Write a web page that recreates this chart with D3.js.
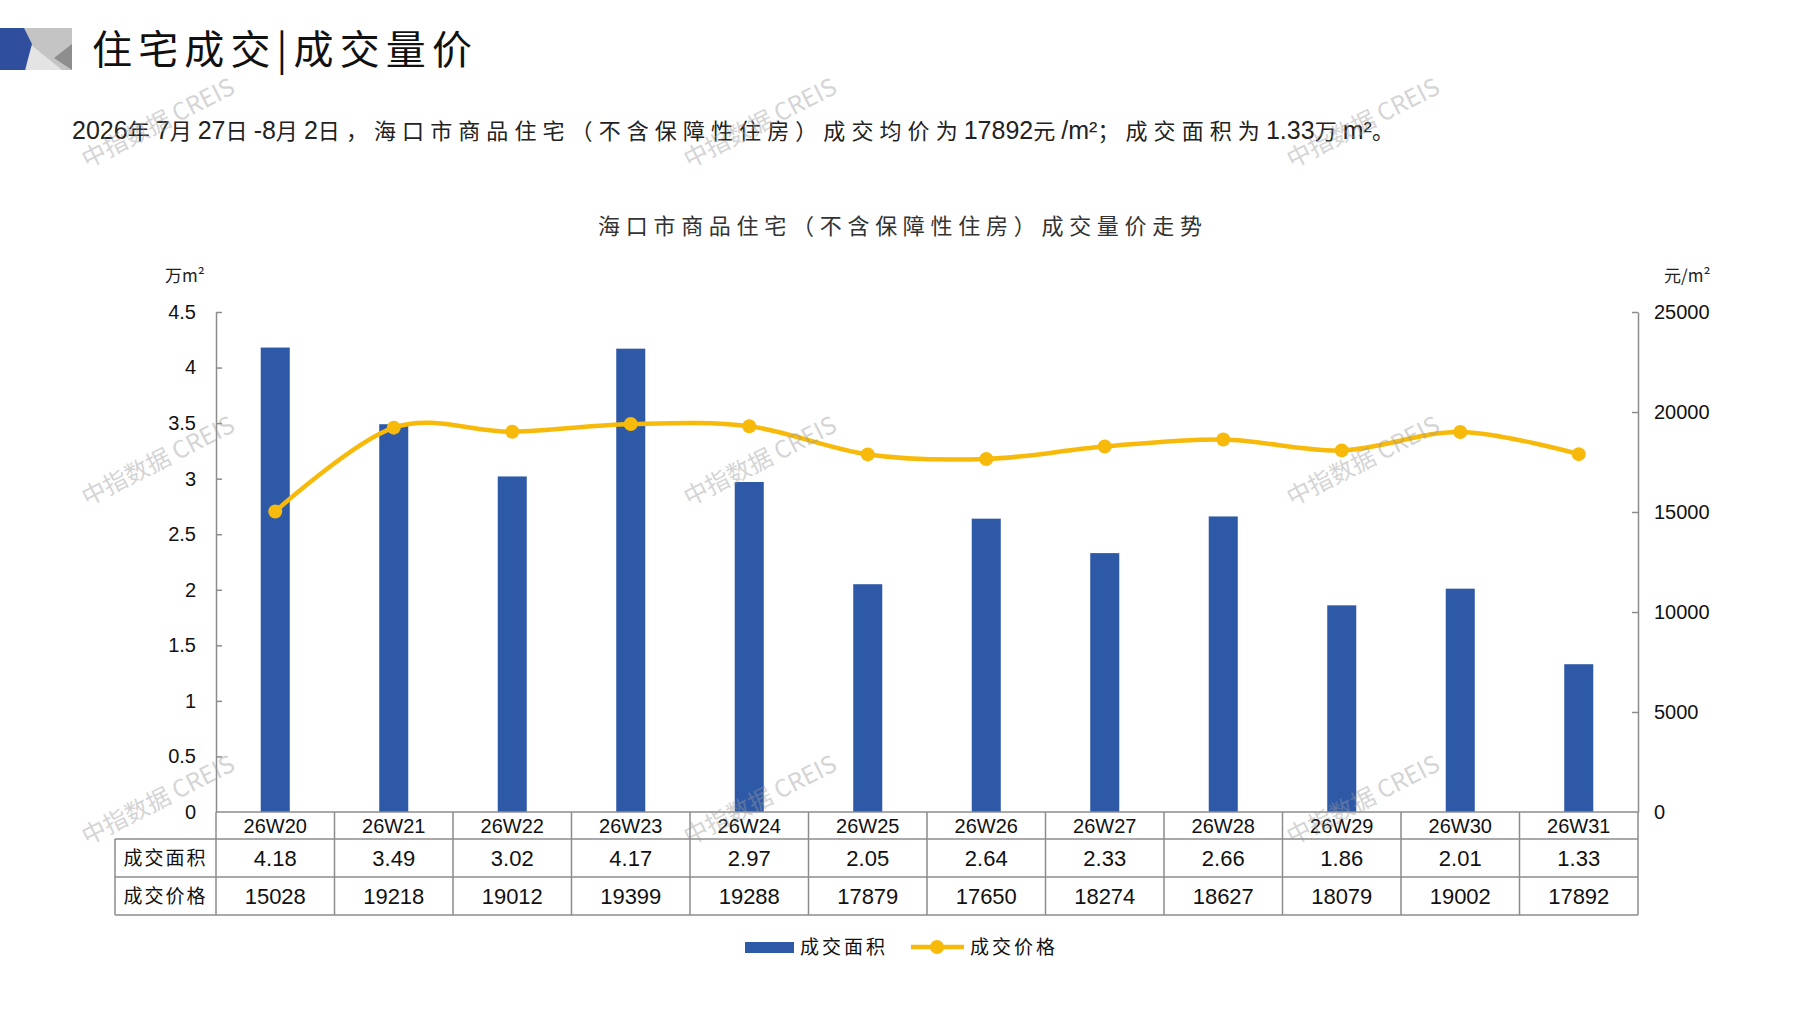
<!DOCTYPE html>
<html>
<head>
<meta charset="utf-8">
<script src="https://cdn.jsdelivr.net/npm/d3@7"></script>
<style>
  html, body { margin: 0; padding: 0; background: #fff; }
  svg { display: block; }
</style>
</head>
<body>
<div id="chart"></div>
<script>
// data
const weeks = ["26W20", "26W21", "26W22", "26W23", "26W24", "26W25", "26W26", "26W27", "26W28", "26W29", "26W30", "26W31"];
const area = [4.18, 3.49, 3.02, 4.17, 2.97, 2.05, 2.64, 2.33, 2.66, 1.86, 2.01, 1.33];
const price = [15028, 19218, 19012, 19399, 19288, 17879, 17650, 18274, 18627, 18079, 19002, 17892];
const areaTicks = [0, 0.5, 1, 1.5, 2, 2.5, 3, 3.5, 4, 4.5];
const priceTicks = [0, 5000, 10000, 15000, 20000, 25000];
const seriesNames = ["成交面积", "成交价格"];

const W = 1797, H = 1010;
const cjk = "'Noto Sans CJK SC', sans-serif";
const latin = "'Liberation Sans', Arial, sans-serif";
const narrow = "'Liberation Sans Narrow', 'Liberation Sans', sans-serif";
const barColor = "#2E59A7";
const lineColor = "#F7BA0B";
const gridGray = "#8c8c8c";

const svg = d3.select("#chart").append("svg")
  .attr("width", W)
  .attr("height", H);

svg.append("rect").attr("width", W).attr("height", H).attr("fill", "#fff");

// header logo
const logo = svg.append("g");
logo.append("rect").attr("x", 22).attr("y", 28).attr("width", 50).attr("height", 42).attr("fill", "#c4c4c4");
logo.append("polygon").attr("points", "30,44 62,70 26,70").attr("fill", "#e4e4e4");
logo.append("polygon").attr("points", "72,44 72,70 54,58").attr("fill", "#8e8e8e");
logo.append("polygon").attr("points", "0,28 24,28 32,44 25,70 0,70").attr("fill", "#2f4f9e");

// titles
svg.append("text")
  .attr("x", 92).attr("y", 64)
  .attr("textLength", 380).attr("lengthAdjust", "spacing")
  .style("font-family", cjk).style("font-size", "40px").style("fill", "#111")
  .text("住宅成交|成交量价");

// subtitle: CJK runs spaced out, latin runs in a narrow face
const subtitle = "2026年7月27日-8月2日，海口市商品住宅（不含保障性住房）成交均价为17892元/m²；成交面积为1.33万m²。";
const runs = subtitle.match(/[\u3000-\u9fff\uff00-\uffef]+|[^\u3000-\u9fff\uff00-\uffef]+/g);
const sub = svg.append("text").attr("x", 72).attr("y", 139).style("fill", "#222");
const spans = sub.selectAll("tspan").data(runs).join("tspan")
  .attr("class", d => /[\u3000-\u9fff\uff00-\uffef]/.test(d) ? "c" : "l")
  .style("font-family", d => /[\u3000-\u9fff\uff00-\uffef]/.test(d) ? cjk : narrow)
  .style("font-size", d => /[\u3000-\u9fff\uff00-\uffef]/.test(d) ? "22px" : "25px")
  .text(d => d);
const nCjk = runs.filter(d => /[\u3000-\u9fff\uff00-\uffef]/.test(d)).join("").length;
const baseW = sub.node().getComputedTextLength();
const gap = Math.max(0, (1328 - baseW) / nCjk);
sub.selectAll("tspan.c").style("letter-spacing", gap + "px");

svg.append("text")
  .attr("x", 598).attr("y", 234)
  .attr("textLength", 604).attr("lengthAdjust", "spacing")
  .style("font-family", cjk).style("font-size", "22px").style("fill", "#333")
  .text("海口市商品住宅（不含保障性住房）成交量价走势");

// plot area
const L = 216, R = 1638, T = 312, B = 812;

const x = d3.scaleBand().domain(weeks).range([L, R]);
const yL = d3.scaleLinear().domain([0, 4.5]).range([B, T]);
const yR = d3.scaleLinear().domain([0, 25000]).range([B, T]);

// unit labels
svg.append("text").attr("x", 165).attr("y", 282)
  .style("font-family", cjk).style("font-size", "17px").style("fill", "#222")
  .text("万m²");
svg.append("text").attr("x", 1664).attr("y", 282)
  .style("font-family", cjk).style("font-size", "17px").style("fill", "#222")
  .text("元/m²");

// axes
const axL = svg.append("g").attr("transform", `translate(${L},0)`)
  .call(d3.axisLeft(yL).tickValues(areaTicks).tickSize(-6).tickSizeOuter(0).tickPadding(20)
    .tickFormat(d3.format("")));
const axR = svg.append("g").attr("transform", `translate(${R},0)`)
  .call(d3.axisRight(yR).tickValues(priceTicks).tickSize(-6).tickSizeOuter(0).tickPadding(16)
    .tickFormat(d3.format("")));
[axL, axR].forEach(ax => {
  ax.select(".domain").attr("stroke", gridGray).attr("stroke-width", 1.5);
  ax.selectAll(".tick line").attr("stroke", gridGray).attr("stroke-width", 1.5);
  ax.selectAll(".tick text")
    .style("font-family", latin).style("font-size", "20px").style("fill", "#111");
});
axL.selectAll(".tick").filter(d => d === 0).select("line").remove();
axR.selectAll(".tick").filter(d => d === 0).select("line").remove();

// bars
const bw = x.bandwidth() * 0.245;
svg.append("g").selectAll("rect")
  .data(area)
  .join("rect")
  .attr("x", (d, i) => x(weeks[i]) + x.bandwidth() / 2 - bw / 2)
  .attr("y", d => yL(d))
  .attr("width", bw)
  .attr("height", d => B - yL(d))
  .attr("fill", barColor);

// price line
const cx = i => x(weeks[i]) + x.bandwidth() / 2;
const line = d3.line()
  .x((d, i) => cx(i))
  .y(d => yR(d))
  .curve(d3.curveCardinal.tension(0));
svg.append("path")
  .datum(price)
  .attr("d", line)
  .attr("fill", "none")
  .attr("stroke", lineColor)
  .attr("stroke-width", 4.5);
svg.append("g").selectAll("circle")
  .data(price)
  .join("circle")
  .attr("cx", (d, i) => cx(i))
  .attr("cy", d => yR(d))
  .attr("r", 7)
  .attr("fill", lineColor);

// data table
const tL = 115, r0 = 812, r1 = 839, r2 = 877, r3 = 915;
const table = svg.append("g");
const tline = (x1, y1, x2, y2) => table.append("line")
  .attr("x1", x1).attr("y1", y1).attr("x2", x2).attr("y2", y2)
  .attr("stroke", gridGray).attr("stroke-width", 1.5);
tline(L, r0, R, r0);
tline(tL, r1, R, r1);
tline(tL, r2, R, r2);
tline(tL, r3, R, r3);
tline(tL, r1, tL, r3);
table.selectAll("line.col")
  .data(weeks.concat(["end"]))
  .join("line")
  .attr("class", "col")
  .attr("x1", d => d === "end" ? R : x(d))
  .attr("x2", d => d === "end" ? R : x(d))
  .attr("y1", r0).attr("y2", r3)
  .attr("stroke", gridGray).attr("stroke-width", 1.5);

const mid = d => x(d) + x.bandwidth() / 2;
table.selectAll("text.wk")
  .data(weeks).join("text")
  .attr("x", mid).attr("y", (r0 + r1) / 2 + 7)
  .attr("text-anchor", "middle")
  .style("font-family", narrow).style("font-size", "20px").style("fill", "#111")
  .text(d => d);
table.selectAll("text.ar")
  .data(area).join("text")
  .attr("x", (d, i) => mid(weeks[i])).attr("y", (r1 + r2) / 2 + 8)
  .attr("text-anchor", "middle")
  .style("font-family", narrow).style("font-size", "22px").style("fill", "#111")
  .text(d => d.toFixed(2));
table.selectAll("text.pr")
  .data(price).join("text")
  .attr("x", (d, i) => mid(weeks[i])).attr("y", (r2 + r3) / 2 + 8)
  .attr("text-anchor", "middle")
  .style("font-family", narrow).style("font-size", "22px").style("fill", "#111")
  .text(d => d);
[[seriesNames[0], (r1 + r2) / 2], [seriesNames[1], (r2 + r3) / 2]].forEach(([t, y]) => {
  table.append("text")
    .attr("x", (tL + L) / 2).attr("y", y + 7)
    .attr("text-anchor", "middle")
    .style("font-family", cjk).style("font-size", "19px").style("letter-spacing", "2px").style("fill", "#111")
    .text(t);
});

// legend
const lg = svg.append("g").attr("transform", "translate(-4,-3)");
lg.append("rect").attr("x", 749).attr("y", 945).attr("width", 49).attr("height", 11).attr("fill", barColor);
lg.append("text").attr("x", 804).attr("y", 957)
  .style("font-family", cjk).style("font-size", "19px").style("letter-spacing", "3px").style("fill", "#111")
  .text(seriesNames[0]);
lg.append("line").attr("x1", 915).attr("x2", 968).attr("y1", 950).attr("y2", 950)
  .attr("stroke", lineColor).attr("stroke-width", 4.5);
lg.append("circle").attr("cx", 941).attr("cy", 950).attr("r", 7).attr("fill", lineColor);
lg.append("text").attr("x", 974).attr("y", 957)
  .style("font-family", cjk).style("font-size", "19px").style("letter-spacing", "3px").style("fill", "#111")
  .text(seriesNames[1]);

// watermarks
const marks = [[158, 123], [760, 123], [1363, 123], [158, 461], [760, 461], [1363, 461], [158, 800], [760, 800], [1363, 800]];
svg.append("g").selectAll("text")
  .data(marks).join("text")
  .attr("transform", d => `translate(${d[0]},${d[1]}) rotate(-27)`)
  .attr("text-anchor", "middle").attr("dy", "0.35em")
  .style("font-family", cjk).style("font-size", "24px")
  .style("fill", "#9a9a9a").style("opacity", 0.42)
  .text("中指数据 CREIS");
</script>
</body>
</html>
